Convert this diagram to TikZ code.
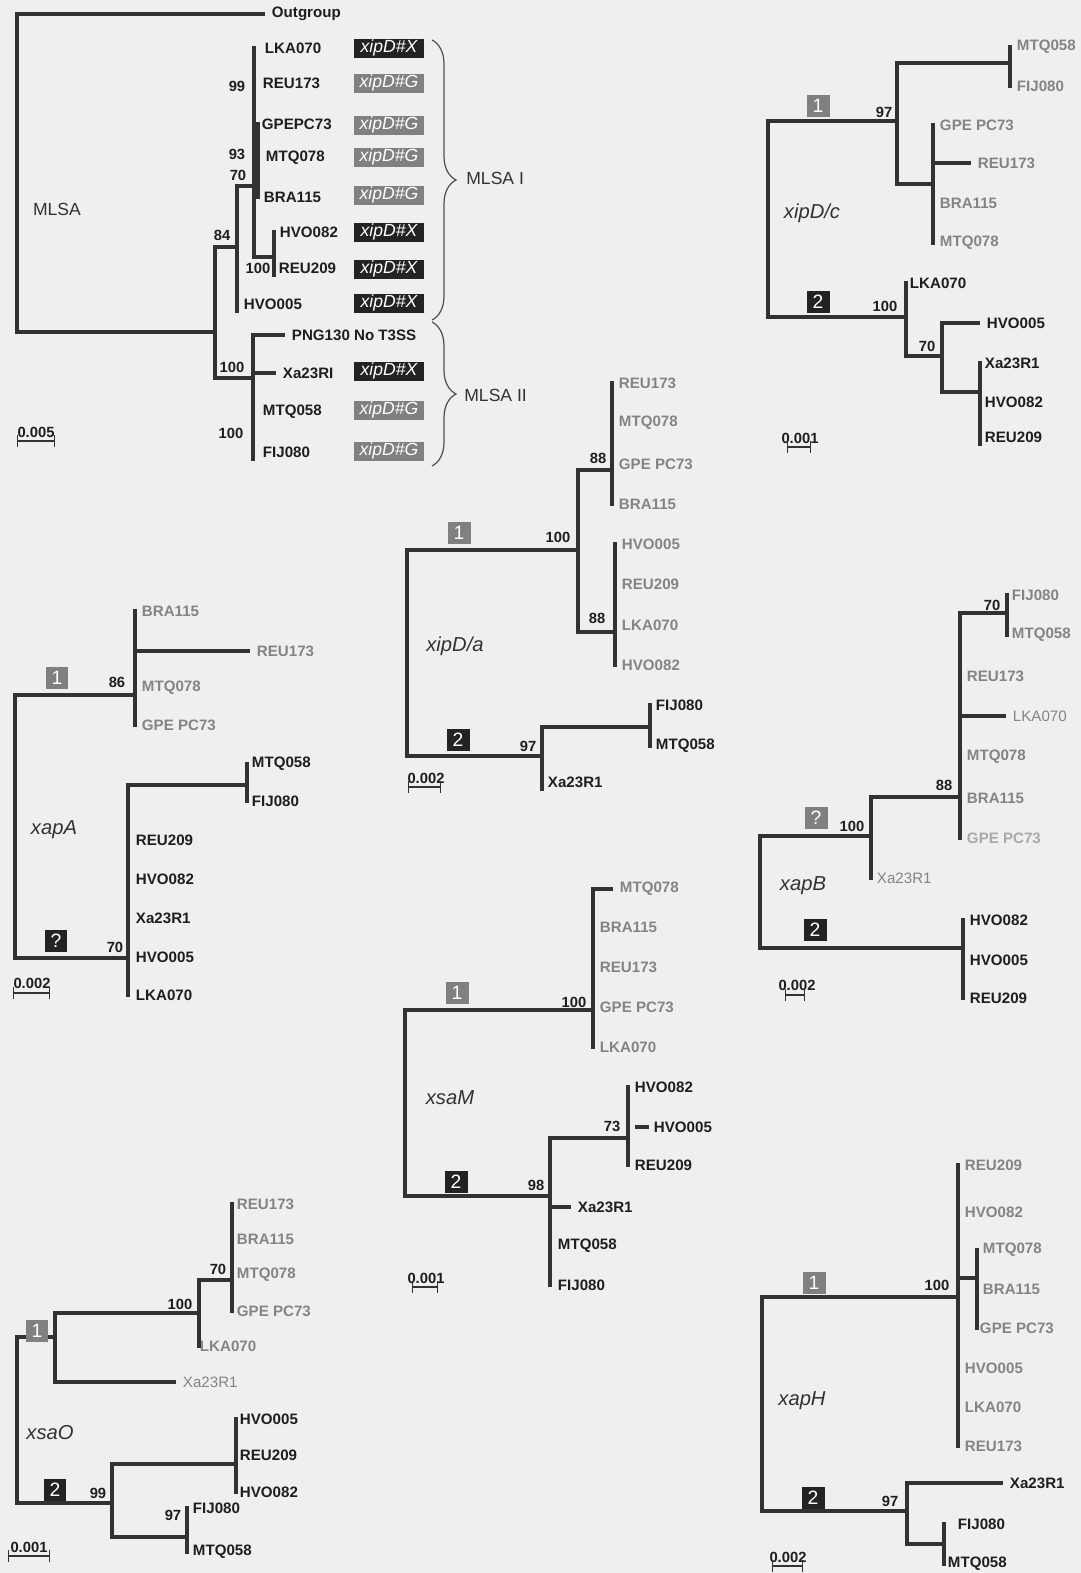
\documentclass[tikz,border=0pt]{standalone}
\usepackage{fontspec}
\setmainfont{Liberation Sans}
\usetikzlibrary{decorations.pathreplacing}
\definecolor{bgcol}{RGB}{239,239,239}
\definecolor{linecol}{RGB}{50,50,50}
\definecolor{darktx}{RGB}{30,30,30}
\definecolor{greytx}{RGB}{132,132,132}
\definecolor{greybox}{RGB}{128,128,128}
\definecolor{darkbox}{RGB}{35,35,35}
\tikzset{
  branch/.style={line width=2pt, draw=linecol, line cap=rect},
  taxon/.style={anchor=west, inner xsep=1.5pt, inner ysep=1pt, font=\fontsize{8.6}{10}\selectfont\bfseries, text=darktx},
  taxg/.style={taxon, text=greytx},
  taxl/.style={taxon, text=greytx, font=\fontsize{8.6}{10}\selectfont},
  boot/.style={inner sep=0pt, font=\fontsize{8.4}{10}\selectfont\bfseries, text=darktx},
  clade1/.style={fill=greybox, text=white, minimum width=0.46cm, minimum height=0.44cm, inner sep=0pt, font=\fontsize{11}{11}\selectfont},
  clade2/.style={clade1, fill=darkbox},
  gene/.style={inner sep=0pt, font=\fontsize{11.5}{12}\selectfont\itshape, text=linecol},
  typex/.style={fill=darkbox, text=white, minimum width=1.4cm, minimum height=0.38cm, inner sep=0pt, font=\fontsize{10}{10}\selectfont\itshape},
  typeg/.style={typex, fill=greybox},
  grpbrace/.style={decorate, decoration={brace, amplitude=0.48cm}, draw=linecol!85, line width=0.7pt},
  scaletx/.style={inner sep=0pt, font=\fontsize{8.4}{10}\selectfont\bfseries, text=darktx},
  scalebar/.style={line width=0.8pt, draw=linecol, |-|}
}
\begin{document}
\begin{tikzpicture}[x=0.02cm, y=-0.02cm]
\useasboundingbox (0,0) rectangle (1081,1573);
\fill[bgcol] (0,0) rectangle (1081,1573);

% MLSA
\node[inner sep=0pt, font=\fontsize{10}{12}\selectfont, text=linecol] (mname) at (57,209) {MLSA};
\node[taxon] (mOut) at (269,14) {Outgroup};
\node[taxon] (mLKA) at (262,48) {LKA070};
\node[taxon] (mREUa) at (260,83) {REU173};
\node[taxon] (mGPE) at (259,124) {GPEPC73};
\node[taxon] (mMTQa) at (263,158) {MTQ078};
\node[taxon] (mBRA) at (261,197) {BRA115};
\node[taxon] (mHVOb) at (277,232) {HVO082};
\node[taxon] (mREUb) at (276,268) {REU209};
\node[taxon] (mHVOa) at (241,304) {HVO005};
\node[taxon] (mPNG) at (289,335) {PNG130 No T3SS};
\node[taxon] (mXa) at (280,373) {Xa23RI};
\node[taxon] (mMTQb) at (260,412) {MTQ058};
\node[taxon] (mFIJ) at (260,452) {FIJ080};
\coordinate (mroot) at (17,332);
\coordinate (mn1) at (215,332);
\coordinate (mn84) at (237,247);
\coordinate (mn70) at (254,186);
\coordinate (mn93) at (258,160);
\coordinate (mn100a) at (274,257);
\coordinate (mn100b) at (253,378);
\draw[branch] (mroot) |- ([xshift=-3]mOut.west);
\draw[branch] (mroot) -- (mn1);
\draw[branch] (mn1) |- (mn84);
\draw[branch] (mn1) |- (mn100b);
\draw[branch] (mn84) |- (mn70);
\draw[branch] (mn84) -- (mn84 |- mHVOa.south);
\draw[branch] (mn70) -- (mn70 |- mLKA.west);
\draw[branch] (mn70) |- (mn100a);
\draw[branch] (mn100a) -- (mn100a |- mHVOb.west);
\draw[branch] (mn100a) -- (mn100a |- mREUb.south);
\draw[branch, line width=2.6pt] (mn93 |- mGPE.west) -- (mn93 |- mBRA.west);
\draw[branch] (mn100b |- mPNG.west) -- (mn100b |- mFIJ.south);
\draw[branch] (mn100b |- mPNG.west) -- ([xshift=-3]mPNG.west);
\draw[branch] (mn100b |- mXa.west) -- ([xshift=-3]mXa.west);
\node[boot] (mb99) at (237,86) {99};
\node[boot] (mb93) at (237,154) {93};
\node[boot] (mb70) at (238,175) {70};
\node[boot] (mb84) at (222,235) {84};
\node[boot] (mb100a) at (258,268) {100};
\node[boot] (mb100b) at (232,367) {100};
\node[boot] (mb100c) at (231,433) {100};
\node[typex] (tLKA) at (389,48) {xipD\#X};
\node[typeg] (tREUa) at (389,83) {xipD\#G};
\node[typeg] (tGPE) at (389,125) {xipD\#G};
\node[typeg] (tMTQa) at (389,157) {xipD\#G};
\node[typeg] (tBRA) at (389,195) {xipD\#G};
\node[typex] (tHVOb) at (389,232) {xipD\#X};
\node[typex] (tREUb) at (389,269) {xipD\#X};
\node[typex] (tHVOa) at (389,303) {xipD\#X};
\node[typex] (tXa) at (389,371) {xipD\#X};
\node[typeg] (tMTQb) at (389,410) {xipD\#G};
\node[typeg] (tFIJ) at (389,451) {xipD\#G};
\draw[grpbrace] (432,40) -- (432,320);
\draw[grpbrace] (432,322) -- (432,466);
\node[anchor=west, inner sep=0pt, font=\fontsize{10}{12}\selectfont, text=linecol] (mI) at (466,178) {MLSA I};
\node[anchor=west, inner sep=0pt, font=\fontsize{10}{12}\selectfont, text=linecol] (mII) at (464,395) {MLSA II};
\node[scaletx] (ms) at (36,432) {0.005};
\draw[scalebar] (17,441) -- (55,441);

% xipD/c
\node[gene] (cname) at (812,213) {xipD/c};
\node[taxg] (cMTQb) at (1014,47) {MTQ058};
\node[taxg] (cFIJ) at (1014,86) {FIJ080};
\node[taxg] (cGPE) at (937,125) {GPE PC73};
\node[taxg] (cREUa) at (975,163) {REU173};
\node[taxg] (cBRA) at (937,203) {BRA115};
\node[taxg] (cMTQa) at (937,243) {MTQ078};
\node[taxon] (cLKA) at (907,283) {LKA070};
\node[taxon] (cHVOa) at (984,323) {HVO005};
\node[taxon] (cXa) at (982,363) {Xa23R1};
\node[taxon] (cHVOb) at (982,402) {HVO082};
\node[taxon] (cREUb) at (982,437) {REU209};
\coordinate (cR) at (768,317);
\coordinate (c97) at (897,121);
\coordinate (cA) at (1010,63);
\coordinate (cB) at (933,184);
\coordinate (c100) at (906,317);
\coordinate (c70) at (942,356);
\coordinate (cX) at (980,392);
\draw[branch] (cR) |- (c97);
\draw[branch] (cR) -- (c100);
\draw[branch] (c97) |- (cA);
\draw[branch] (c97) |- (cB);
\draw[branch] (cA |- cMTQb.west) -- (cA |- cFIJ.west);
\draw[branch] (cB |- cGPE.west) -- (cB |- cMTQa.west);
\draw[branch] (cB |- cREUa.west) -- ([xshift=-3]cREUa.west);
\draw[branch] (c100 |- cLKA.west) -- (c100) |- (c70);
\draw[branch] (c70) |- ([xshift=-3]cHVOa.west);
\draw[branch] (c70) |- (cX);
\draw[branch] (cX |- cXa.west) -- (cX |- cREUb.south);
\node[clade1] (c1) at (818,106) {1};
\node[clade2] (c2) at (818,302) {2};
\node[boot] (cb97) at (884,112) {97};
\node[boot] (cb100) at (885,306) {100};
\node[boot] (cb70) at (927,346) {70};
\node[scaletx] (cs) at (800,438) {0.001};
\draw[scalebar] (787,447) -- (811,447);

% xipD/a
\node[gene] (aname) at (455,646) {xipD/a};
\node[taxg] (aREUa) at (616,383) {REU173};
\node[taxg] (aMTQa) at (616,423) {MTQ078};
\node[taxg] (aGPE) at (616,464) {GPE PC73};
\node[taxg] (aBRA) at (616,504) {BRA115};
\node[taxg] (aHVOa) at (619,544) {HVO005};
\node[taxg] (aREUb) at (619,584) {REU209};
\node[taxg] (aLKA) at (619,625) {LKA070};
\node[taxg] (aHVOb) at (619,665) {HVO082};
\node[taxon] (aFIJ) at (653,705) {FIJ080};
\node[taxon] (aMTQb) at (653,746) {MTQ058};
\node[taxon] (aXa) at (545,782) {Xa23R1};
\coordinate (aR) at (407,756);
\coordinate (a100) at (578,550);
\coordinate (a88a) at (612,470);
\coordinate (a88b) at (615,632);
\coordinate (a97) at (542,756);
\coordinate (aF) at (650,727);
\draw[branch] (aR) |- (a100);
\draw[branch] (aR) -- (a97);
\draw[branch] (a100) |- (a88a);
\draw[branch] (a100) |- (a88b);
\draw[branch] (a88a |- aREUa.west) -- (a88a |- aBRA.west);
\draw[branch] (a88b |- aHVOa.west) -- (a88b |- aHVOb.west);
\draw[branch] (a97) |- (aF);
\draw[branch] (a97) -- (a97 |- aXa.south);
\draw[branch] (aF |- aFIJ.west) -- (aF |- aMTQb.west);
\node[clade1] (a1) at (459,533) {1};
\node[clade2] (a2) at (458,740) {2};
\node[boot] (ab100) at (558,537) {100};
\node[boot] (ab88a) at (598,458) {88};
\node[boot] (ab88b) at (597,618) {88};
\node[boot] (ab97) at (528,746) {97};
\node[scaletx] (as) at (426,778) {0.002};
\draw[scalebar] (408,787) -- (441,787);

% xapA
\node[gene] (pname) at (54,830) {xapA};
\node[taxg] (pBRA) at (139,611) {BRA115};
\node[taxg] (pREUa) at (254,651) {REU173};
\node[taxg] (pMTQa) at (139,688) {MTQ078};
\node[taxg] (pGPE) at (139,725) {GPE PC73};
\node[taxon] (pMTQb) at (249,764) {MTQ058};
\node[taxon] (pFIJ) at (249,801) {FIJ080};
\node[taxon] (pREUb) at (133,840) {REU209};
\node[taxon] (pHVOb) at (133,879) {HVO082};
\node[taxon] (pXa) at (133,918) {Xa23R1};
\node[taxon] (pHVOa) at (133,957) {HVO005};
\node[taxon] (pLKA) at (133,995) {LKA070};
\coordinate (pR) at (15,958);
\coordinate (p86) at (135,695);
\coordinate (p70) at (128,958);
\coordinate (pF) at (247,785);
\draw[branch] (pR) |- (p86);
\draw[branch] (pR) -- (p70);
\draw[branch] (p86 |- pBRA.west) -- (p86 |- pGPE.west);
\draw[branch] (p86 |- pREUa.west) -- ([xshift=-3]pREUa.west);
\draw[branch] (p70) |- (pF);
\draw[branch] (p70) -- (p70 |- pLKA.west);
\draw[branch] (pF |- pMTQb.west) -- (pF |- pFIJ.west);
\node[clade1] (p1) at (57,678) {1};
\node[clade2] (p2) at (56,941) {?};
\node[boot] (pb86) at (117,682) {86};
\node[boot] (pb70) at (115,947) {70};
\node[scaletx] (ps) at (32,983) {0.002};
\draw[scalebar] (13,993) -- (50,993);

% xapB
\node[gene] (bname) at (803,886) {xapB};
\node[taxg] (bFIJ) at (1009,595) {FIJ080};
\node[taxg] (bMTQb) at (1009,635) {MTQ058};
\node[taxg] (bREUa) at (964,676) {REU173};
\node[taxl] (bLKA) at (1010,716) {LKA070};
\node[taxg] (bMTQa) at (964,757) {MTQ078};
\node[taxg] (bBRA) at (964,798) {BRA115};
\node[taxg, text=greytx!70] (bGPE) at (964,838) {GPE PC73};
\node[taxl] (bXa) at (874,878) {Xa23R1};
\node[taxon] (bHVOb) at (967,920) {HVO082};
\node[taxon] (bHVOa) at (967,960) {HVO005};
\node[taxon] (bREUb) at (967,998) {REU209};
\coordinate (bR) at (760,948);
\coordinate (b100) at (871,836);
\coordinate (b88) at (960,797);
\coordinate (b70) at (1007,613);
\coordinate (b2) at (963,948);
\draw[branch] (bR) |- (b100);
\draw[branch] (bR) -- (b2);
\draw[branch] (b100) |- (b88);
\draw[branch] (b100) -- (b100 |- bXa.west);
\draw[branch] (b88) |- (b70);
\draw[branch] (b88) -- (b88 |- bGPE.west);
\draw[branch] (b88 |- bLKA.west) -- ([xshift=-3]bLKA.west);
\draw[branch, line width=2.6pt] (b70 |- bFIJ.west) -- (b70 |- bMTQb.west);
\draw[branch] (b2 |- bHVOb.west) -- (b2 |- bREUb.west);
\node[clade1] (b1) at (816,818) {?};
\node[clade2] (b2box) at (815,930) {2};
\node[boot] (bb100) at (852,826) {100};
\node[boot] (bb88) at (944,785) {88};
\node[boot] (bb70) at (992,605) {70};
\node[scaletx] (bs) at (797,985) {0.002};
\draw[scalebar] (785,995) -- (805,995);

% xsaM
\node[gene] (sname) at (450,1098) {xsaM};
\node[taxg] (sMTQa) at (617,889) {MTQ078};
\node[taxg] (sBRA) at (597,927) {BRA115};
\node[taxg] (sREUa) at (597,967) {REU173};
\node[taxg] (sGPE) at (597,1007) {GPE PC73};
\node[taxg] (sLKA) at (597,1047) {LKA070};
\node[taxon] (sHVOb) at (632,1087) {HVO082};
\node[taxon] (sHVOa) at (651,1127) {HVO005};
\node[taxon] (sREUb) at (632,1165) {REU209};
\node[taxon] (sXa) at (575,1207) {Xa23R1};
\node[taxon] (sMTQb) at (555,1246) {MTQ058};
\node[taxon] (sFIJ) at (555,1285) {FIJ080};
\coordinate (sR) at (405,1196);
\coordinate (s100) at (593,1010);
\coordinate (s98) at (550,1196);
\coordinate (s73) at (628,1138);
\draw[branch] (sR) |- (s100);
\draw[branch] (sR) -- (s98);
\draw[branch] (s100) |- ([xshift=-3]sMTQa.west);
\draw[branch] (s100) -- (s100 |- sLKA.west);
\draw[branch] (s98) |- (s73);
\draw[branch] (s98) -- (s98 |- sFIJ.west);
\draw[branch] (s98 |- sXa.west) -- ([xshift=-3]sXa.west);
\draw[branch] (s73 |- sHVOb.west) -- (s73 |- sREUb.west);
\draw[branch] ([xshift=-8]sHVOa.west) -- ([xshift=-2]sHVOa.west);
\node[clade1] (s1) at (457,993) {1};
\node[clade2] (s2) at (456,1182) {2};
\node[boot] (sb100) at (574,1002) {100};
\node[boot] (sb98) at (536,1185) {98};
\node[boot] (sb73) at (612,1126) {73};
\node[scaletx] (ss) at (426,1278) {0.001};
\draw[scalebar] (412,1287) -- (438,1287);

% xsaO
\node[gene] (oname) at (50,1433) {xsaO};
\node[taxg] (oREUa) at (234,1204) {REU173};
\node[taxg] (oBRA) at (234,1239) {BRA115};
\node[taxg] (oMTQa) at (234,1275) {MTQ078};
\node[taxg] (oGPE) at (234,1311) {GPE PC73};
\node[taxg] (oLKA) at (197,1346) {LKA070};
\node[taxl] (oXa) at (180,1382) {Xa23R1};
\node[taxon] (oHVOa) at (237,1419) {HVO005};
\node[taxon] (oREUb) at (237,1455) {REU209};
\node[taxon] (oHVOb) at (237,1492) {HVO082};
\node[taxon] (oFIJ) at (190,1508) {FIJ080};
\node[taxon] (oMTQb) at (190,1552) {MTQ058};
\coordinate (oR) at (17,1503);
\coordinate (o1) at (55,1337);
\coordinate (o100) at (199,1313);
\coordinate (o70) at (232,1280);
\coordinate (o99) at (112,1503);
\coordinate (oH) at (236,1464);
\coordinate (o97) at (187,1537);
\draw[branch] (oR) |- (o1);
\draw[branch] (oR) -- (o99);
\draw[branch] (o1) |- (o100);
\draw[branch] (o1) |- ([xshift=-3]oXa.west);
\draw[branch] (o100) |- (o70);
\draw[branch] (o100) -- (o100 |- oLKA.west);
\draw[branch] (o70 |- oREUa.west) -- (o70 |- oGPE.west);
\draw[branch] (o99) |- (oH);
\draw[branch] (o99) |- (o97);
\draw[branch] (oH |- oHVOa.west) -- (oH |- oHVOb.west);
\draw[branch] (o97 |- oFIJ.west) -- (o97 |- oMTQb.west);
\node[clade1] (o1box) at (37,1331) {1};
\node[clade2] (o2box) at (55,1490) {2};
\node[boot] (ob100) at (180,1304) {100};
\node[boot] (ob70) at (218,1269) {70};
\node[boot] (ob99) at (98,1493) {99};
\node[boot] (ob97) at (173,1515) {97};
\node[scaletx] (os) at (29,1547) {0.001};
\draw[scalebar] (8,1556) -- (50,1556);

% xapH
\node[gene] (hname) at (802,1401) {xapH};
\node[taxg] (hREUb) at (962,1165) {REU209};
\node[taxg] (hHVOb) at (962,1212) {HVO082};
\node[taxg] (hMTQa) at (980,1250) {MTQ078};
\node[taxg] (hBRA) at (980,1289) {BRA115};
\node[taxg] (hGPE) at (977,1328) {GPE PC73};
\node[taxg] (hHVOa) at (962,1368) {HVO005};
\node[taxg] (hLKA) at (962,1407) {LKA070};
\node[taxg] (hREUa) at (962,1446) {REU173};
\node[taxon] (hXa) at (1007,1483) {Xa23R1};
\node[taxon] (hFIJ) at (955,1524) {FIJ080};
\node[taxon] (hMTQb) at (945,1564) {MTQ058};
\coordinate (hR) at (762,1511);
\coordinate (h100) at (958,1297);
\coordinate (h97) at (907,1511);
\coordinate (hM) at (977,1278);
\coordinate (hF) at (944,1544);
\draw[branch] (hR) |- (h100);
\draw[branch] (hR) -- (h97);
\draw[branch] (h100 |- hREUb.west) -- (h100 |- hREUa.west);
\draw[branch] (h100 |- hM) -- (hM);
\draw[branch] (hM |- hMTQa.west) -- (hM |- hGPE.west);
\draw[branch] (h97) |- ([xshift=-3]hXa.west);
\draw[branch] (h97) |- (hF);
\draw[branch] (hF |- hFIJ.west) -- (hF |- hMTQb.west);
\node[clade1] (h1) at (814,1283) {1};
\node[clade2] (h2) at (813,1498) {2};
\node[boot] (hb100) at (937,1285) {100};
\node[boot] (hb97) at (890,1501) {97};
\node[scaletx] (hs) at (788,1557) {0.002};
\draw[scalebar] (772,1566) -- (803,1566);
\end{tikzpicture}
\end{document}
